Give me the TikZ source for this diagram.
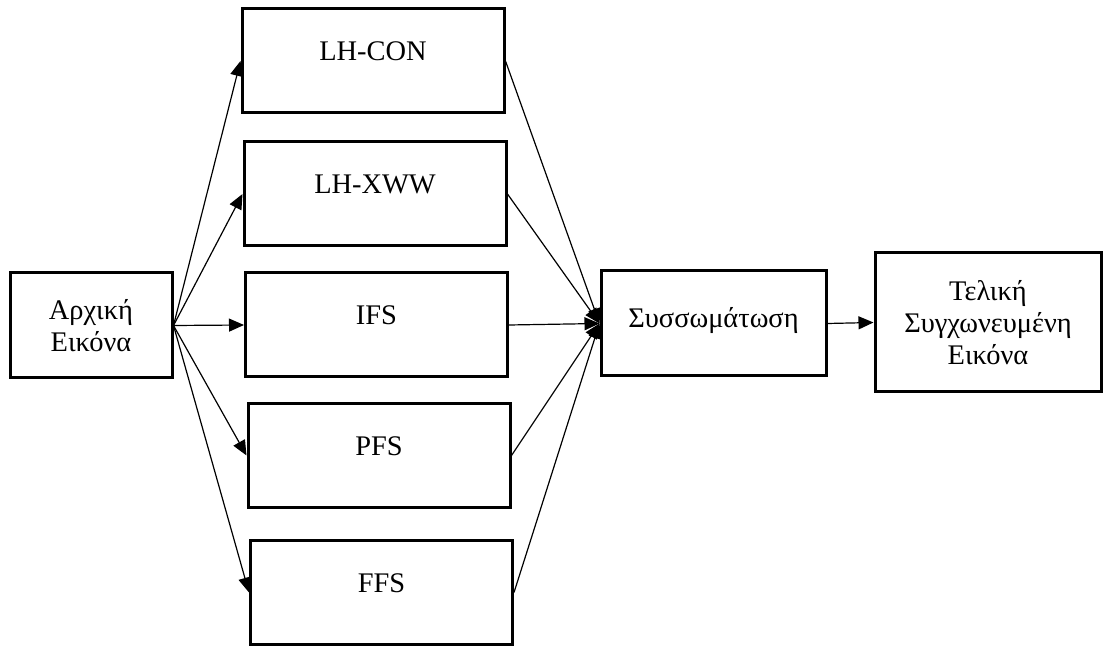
\documentclass[tikz,border=0pt]{standalone}
\usepackage{fontspec}
\setmainfont{Liberation Serif}
\usepackage{tikz}
\usetikzlibrary{arrows.meta}

\begin{document}
\begin{tikzpicture}[x=0.5pt,y=-0.5pt,
  font=\fontsize{14.2}{16}\selectfont,
  blk/.style={draw,line width=1.5pt,minimum width=131pt,minimum height=52pt,
              inner sep=2pt,align=center},
  one/.style={text height=9pt,text depth=9pt},
  flow/.style={-{Triangle[length=7.5pt,width=6.5pt]},line width=0.6pt},
]
\useasboundingbox (0,0) rectangle (1116,646);

\node[blk,minimum width=81pt,minimum height=52.5pt] (src) at (91,325.5) {Αρχική\\Εικόνα};

\node[blk,one] (con) at (373,61)    {LH-CON};
\node[blk,one] (xww) at (375,194)   {LH-XWW};
\node[blk,one] (ifs) at (376.5,325) {IFS};
\node[blk,one] (pfs) at (379,455.5) {PFS};
\node[blk,one] (ffs) at (381.5,592.5) {FFS};

\node[blk,minimum width=112.5pt,minimum height=52.5pt,text height=10pt,text depth=5.5pt]
  (mrg) at (713.5,323.5) {Συσσωμάτωση};
\node[blk,minimum width=113pt,minimum height=69.5pt] (fin) at (988,322.5)
  {Τελική\\Συγχωνευμένη\\Εικόνα};

% fan out / fan in
\foreach \b in {con,xww,ifs,pfs,ffs}{
  \draw[flow] (src.east) -- (\b.west);
  \draw[flow] (\b.east) -- (mrg.west);
}
\draw[flow] (mrg.east) -- (fin.west);
\end{tikzpicture}
\end{document}
